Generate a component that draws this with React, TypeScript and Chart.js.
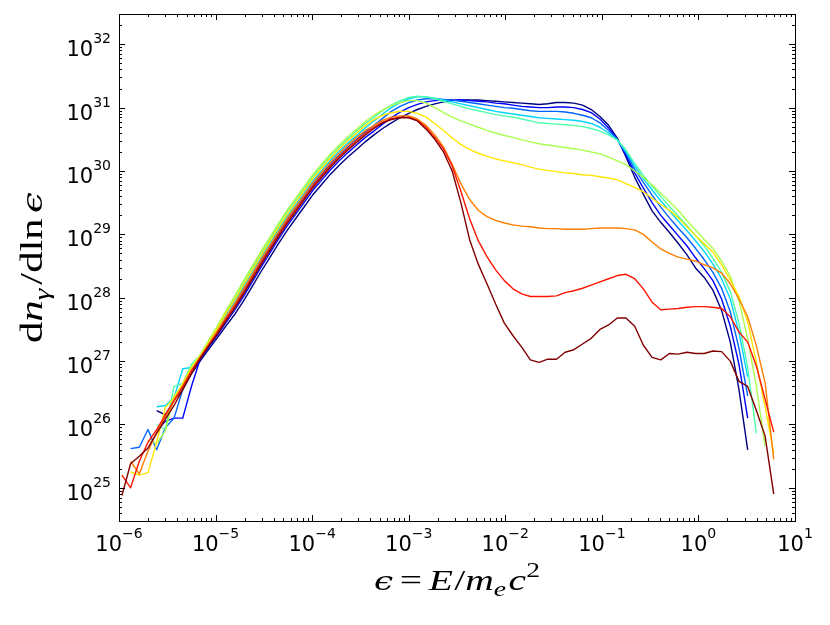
import { useEffect, useRef } from 'react';
import { Chart, registerables } from 'chart.js';
import type { Plugin } from 'chart.js';

Chart.register(...registerables);

// log10 of the photon energy for every bin
const logEnergy = [
  -5.97, -5.88, -5.79, -5.7, -5.61, -5.52, -5.43, -5.34, -5.25, -5.16,
  -5.07, -4.98, -4.89, -4.8, -4.71, -4.62, -4.53, -4.44, -4.35, -4.26,
  -4.17, -4.08, -3.99, -3.9, -3.81, -3.72, -3.63, -3.54, -3.45, -3.36,
  -3.27, -3.18, -3.09, -3.0, -2.91, -2.82, -2.73, -2.64, -2.55, -2.46,
  -2.37, -2.28, -2.19, -2.1, -2.01, -1.92, -1.83, -1.74, -1.65, -1.56,
  -1.47, -1.38, -1.29, -1.2, -1.11, -1.02, -0.93, -0.84, -0.75, -0.66,
  -0.57, -0.48, -0.39, -0.3, -0.21, -0.12, -0.03, 0.06, 0.15, 0.24,
  0.33, 0.42, 0.51, 0.6, 0.69, 0.78,
];

// log10(dn/dln eps) per curve, one entry per bin (null = no data)
const navy = [
  null, null, null, null, 26.22, 26.15, 26.38, 26.55, 26.8, 27.0,
  27.19, 27.37, 27.56, 27.74, 27.95, 28.18, 28.41, 28.63, 28.85, 29.06,
  29.25, 29.44, 29.63, 29.79, 29.95, 30.09, 30.22, 30.34, 30.46, 30.57,
  30.67, 30.76, 30.84, 30.91, 30.97, 31.02, 31.06, 31.09, 31.11, 31.12,
  31.12, 31.12, 31.11, 31.1, 31.09, 31.08, 31.07, 31.06, 31.05, 31.06,
  31.08, 31.08, 31.07, 31.04, 30.97, 30.86, 30.72, 30.52, 30.22, 29.9,
  29.63, 29.37, 29.19, 29.03, 28.86, 28.68, 28.47, 28.32, 28.12, 27.8,
  27.3, 26.55, 25.6, null, null, null,
];
const blue = [
  null, null, null, null, 25.9, 26.05, 26.1, 26.1, 26.6, 27.03,
  27.22, 27.41, 27.61, 27.81, 28.02, 28.25, 28.48, 28.7, 28.92, 29.13,
  29.32, 29.51, 29.7, 29.86, 30.02, 30.16, 30.29, 30.41, 30.53, 30.63,
  30.74, 30.84, 30.93, 31.0, 31.05, 31.09, 31.11, 31.12, 31.12, 31.12,
  31.11, 31.1, 31.09, 31.07, 31.06, 31.04, 31.02, 31.01, 31.0, 31.0,
  31.01, 31.01, 31.0, 30.97, 30.92, 30.82, 30.68, 30.5, 30.25, 29.97,
  29.73, 29.5, 29.3, 29.14, 28.98, 28.82, 28.63, 28.46, 28.27, 27.98,
  27.55, 26.95, 26.1, null, null, null,
];
const dodger = [
  null, 25.62, 25.64, 25.92, 25.6, 25.95, 26.1, 26.55, 26.85, 27.05,
  27.26, 27.46, 27.68, 27.89, 28.11, 28.34, 28.57, 28.79, 29.01, 29.22,
  29.41, 29.6, 29.79, 29.95, 30.11, 30.25, 30.38, 30.5, 30.62, 30.72,
  30.83, 30.94, 31.02, 31.08, 31.12, 31.14, 31.14, 31.13, 31.12, 31.1,
  31.08, 31.06, 31.04, 31.02, 31.0, 30.99, 30.97, 30.95, 30.94, 30.94,
  30.94, 30.93, 30.91, 30.88, 30.84, 30.76, 30.64, 30.5, 30.28, 30.03,
  29.82, 29.62, 29.43, 29.26, 29.1, 28.95, 28.78, 28.6, 28.4, 28.15,
  27.78, 27.2, 26.45, null, null, null,
];
const cyan = [
  null, null, null, null, 26.28, 26.3, 26.42, 26.88, 26.9, 27.07,
  27.29, 27.5, 27.73, 27.94, 28.17, 28.4, 28.63, 28.85, 29.07, 29.28,
  29.47, 29.66, 29.85, 30.01, 30.17, 30.31, 30.44, 30.56, 30.68, 30.79,
  30.9, 31.0, 31.08, 31.14, 31.17, 31.17, 31.15, 31.12, 31.09, 31.06,
  31.03, 31.0, 30.97, 30.94, 30.92, 30.9, 30.88, 30.86, 30.84, 30.83,
  30.82, 30.81, 30.8, 30.78, 30.75, 30.69, 30.6, 30.49, 30.3, 30.08,
  29.88, 29.7, 29.53, 29.37, 29.21, 29.06, 28.9, 28.73, 28.53, 28.3,
  27.98, 27.45, 26.75, null, null, null,
];
const aqua = [
  null, null, null, null, 26.0, 25.92, 26.6, 26.65, 26.95, 27.09,
  27.32, 27.54, 27.78, 28.0, 28.24, 28.47, 28.7, 28.92, 29.14, 29.35,
  29.54, 29.73, 29.92, 30.08, 30.24, 30.38, 30.51, 30.63, 30.75, 30.85,
  30.95, 31.04, 31.11, 31.16, 31.18, 31.17, 31.14, 31.1, 31.06, 31.02,
  30.98, 30.95, 30.92, 30.89, 30.87, 30.85, 30.82, 30.79, 30.76, 30.75,
  30.74, 30.73, 30.72, 30.7, 30.67, 30.63, 30.57, 30.49, 30.33, 30.12,
  29.93, 29.76, 29.6, 29.44, 29.29, 29.14, 28.98, 28.82, 28.62, 28.4,
  28.1, 27.6, 26.9, 25.86, null, null,
];
const green = [
  null, null, null, 25.75, 25.7, 25.9, 26.45, 26.62, 26.9, 27.1,
  27.33, 27.56, 27.8, 28.03, 28.27, 28.5, 28.73, 28.95, 29.17, 29.38,
  29.57, 29.76, 29.95, 30.11, 30.27, 30.41, 30.54, 30.66, 30.78, 30.88,
  30.96, 31.03, 31.08, 31.11, 31.11, 31.07, 31.0, 30.92, 30.85, 30.79,
  30.74, 30.69, 30.64, 30.6, 30.56, 30.53, 30.49, 30.46, 30.43, 30.41,
  30.39, 30.37, 30.35, 30.33, 30.3, 30.27, 30.22, 30.16, 30.1, 30.0,
  29.9, 29.78, 29.65, 29.52, 29.38, 29.22, 29.07, 28.92, 28.78, 28.58,
  28.34, 27.95, 27.35, 26.6, 25.66, null,
];
const yellow = [
  null, 25.25, 25.2, 25.24, 25.72, 26.27, 26.42, 26.65, 26.9, 27.08,
  27.3, 27.52, 27.76, 27.98, 28.21, 28.44, 28.67, 28.89, 29.11, 29.32,
  29.51, 29.7, 29.89, 30.05, 30.21, 30.35, 30.48, 30.6, 30.72, 30.81,
  30.88, 30.92, 30.94, 30.94, 30.91, 30.85, 30.75, 30.64, 30.52, 30.42,
  30.34, 30.28, 30.23, 30.19, 30.16, 30.13, 30.1, 30.06, 30.03, 30.01,
  29.99, 29.97, 29.96, 29.94, 29.93, 29.91, 29.89, 29.86, 29.8, 29.74,
  29.67, 29.57, 29.47, 29.38, 29.26, 29.12, 28.98, 28.85, 28.72, 28.52,
  28.28, 28.02, 27.62, 26.98, 26.28, 25.55,
];
const orange = [
  null, 25.42, 25.22, 25.58, 25.88, 26.12, 26.37, 26.6, 26.84, 27.06,
  27.27, 27.48, 27.7, 27.91, 28.14, 28.37, 28.6, 28.82, 29.04, 29.25,
  29.44, 29.63, 29.82, 29.98, 30.14, 30.28, 30.41, 30.53, 30.64, 30.72,
  30.8, 30.85, 30.87, 30.87, 30.82, 30.72, 30.57, 30.38, 30.1, 29.8,
  29.55, 29.38, 29.28, 29.22, 29.18, 29.15, 29.13, 29.12, 29.1, 29.09,
  29.09, 29.08, 29.08, 29.08, 29.09, 29.1, 29.1, 29.1, 29.09, 29.07,
  29.0, 28.88, 28.77, 28.7, 28.64, 28.61, 28.58, 28.52, 28.47, 28.39,
  28.22, 27.98, 27.7, 27.24, 26.66, 25.45,
];
const red = [
  25.2, 25.0, 25.42, 25.72, 25.92, 26.15, 26.38, 26.6, 26.85, 27.05,
  27.25, 27.45, 27.67, 27.87, 28.09, 28.32, 28.55, 28.77, 28.99, 29.2,
  29.39, 29.58, 29.77, 29.93, 30.09, 30.23, 30.36, 30.48, 30.6, 30.69,
  30.77, 30.82, 30.85, 30.85, 30.8, 30.69, 30.53, 30.35, 30.08, 29.68,
  29.25, 28.9, 28.65, 28.44, 28.27, 28.14, 28.06, 28.02, 28.02, 28.02,
  28.03, 28.08, 28.11, 28.15, 28.2, 28.25, 28.3, 28.35, 28.37, 28.3,
  28.14, 27.93, 27.81, 27.82, 27.83, 27.85, 27.86, 27.86, 27.85, 27.83,
  27.7, 27.46, 27.3, 26.92, 26.4, 25.88,
];
const darkRed = [
  24.88, 25.38, 25.5, 25.63, 25.86, 26.08, 26.3, 26.55, 26.8, 27.04,
  27.24, 27.43, 27.64, 27.84, 28.06, 28.29, 28.52, 28.74, 28.96, 29.17,
  29.36, 29.55, 29.74, 29.9, 30.06, 30.2, 30.33, 30.45, 30.57, 30.67,
  30.76, 30.81, 30.84, 30.84, 30.79, 30.66, 30.5, 30.3, 30.0, 29.5,
  28.92, 28.53, 28.22, 27.9, 27.6, 27.4, 27.22, 27.02, 26.98, 27.03,
  27.03, 27.14, 27.18, 27.27, 27.36, 27.5, 27.57, 27.68, 27.68, 27.55,
  27.25, 27.06, 27.02, 27.12, 27.11, 27.14, 27.12, 27.12, 27.16, 27.15,
  27.0, 26.68, 26.6, 26.22, 25.82, 24.9,
];

const curves = [navy, blue, dodger, cyan, aqua, green, yellow, orange, red, darkRed];
// jet colormap, evenly spaced
const jetColors = [
  '#000080', '#0000ff', '#0063ff', '#00d4ff', '#4effa9',
  '#a9ff4e', '#ffe600', '#ff7d00', '#ff1400', '#800000',
];

const xDecades = [-6, -5, -4, -3, -2, -1, 0, 1];
const yDecades = [25, 26, 27, 28, 29, 30, 31, 32];

const BASE_FONT = "21px 'DejaVu Sans'";
const EXP_FONT = "14px 'DejaVu Sans'";
const SERIF = "'Liberation Serif'";

type Piece = { text: string; font: string; dy?: number; before?: number; after?: number };

const xTitle: Piece[] = [
  { text: 'ϵ', font: "italic 26px 'DejaVu Serif'" },
  { text: '=', font: `30px ${SERIF}`, before: 5, after: 5 },
  { text: 'E', font: `italic 30px ${SERIF}` },
  { text: '/', font: `30px ${SERIF}`, before: 1 },
  { text: 'm', font: `italic 30px ${SERIF}` },
  { text: 'e', font: `italic 21px ${SERIF}`, dy: 6 },
  { text: 'c', font: `italic 30px ${SERIF}`, before: 2 },
  { text: '2', font: `21px ${SERIF}`, dy: -13 },
];

const yTitle: Piece[] = [
  { text: 'd', font: `32px ${SERIF}` },
  { text: 'n', font: `italic 32px ${SERIF}` },
  { text: 'γ', font: `italic 22px ${SERIF}`, dy: 7 },
  { text: '/', font: `32px ${SERIF}`, before: 3 },
  { text: 'dln', font: `32px ${SERIF}` },
  { text: 'ϵ', font: "italic 28px 'DejaVu Serif'", before: 4 },
];

function drawPieces(ctx: CanvasRenderingContext2D, pieces: Piece[], cx: number, y: number, width: number) {
  const widths = pieces.map((p) => {
    ctx.font = p.font;
    return (p.before ?? 0) + ctx.measureText(p.text).width + (p.after ?? 0);
  });
  const total = widths.reduce((a, b) => a + b, 0);
  ctx.save();
  ctx.translate(cx - width / 2, y);
  ctx.scale(width / total, 1);
  let x = 0;
  pieces.forEach((p, i) => {
    ctx.font = p.font;
    ctx.fillText(p.text, x + (p.before ?? 0), p.dy ?? 0);
    x += widths[i];
  });
  ctx.restore();
}

function drawPower(ctx: CanvasRenderingContext2D, p: number, x: number, y: number, align: 'center' | 'right') {
  const exp = p < 0 ? '\u2212' + Math.abs(p) : String(p);
  ctx.font = BASE_FONT;
  const wb = ctx.measureText('10').width;
  ctx.font = EXP_FONT;
  const we = ctx.measureText(exp).width;
  const x0 = align === 'center' ? x - (wb + we) / 2 : x - wb - we;
  ctx.font = BASE_FONT;
  ctx.fillText('10', x0, y);
  ctx.font = EXP_FONT;
  ctx.fillText(exp, x0 + wb, y - 13);
}

// matplotlib-like frame, inward ticks on all sides, power-of-ten labels
const axisDecor: Plugin<'line'> = {
  id: 'axisDecor',
  afterDraw(chart) {
    const { ctx, chartArea: a } = chart;
    const xs = chart.scales.x;
    const ys = chart.scales.y;
    ctx.save();
    ctx.strokeStyle = '#000';
    ctx.fillStyle = '#000';
    ctx.lineWidth = 1;
    ctx.strokeRect(a.left + 0.5, a.top + 0.5, a.right - a.left, a.bottom - a.top);

    ctx.beginPath();
    for (let d = -6; d <= 0; d++) {
      for (let m = 1; m <= 9; m++) {
        const len = m === 1 ? 6 : 3;
        const px = Math.round(xs.getPixelForValue(m * 10 ** d)) + 0.5;
        ctx.moveTo(px, a.bottom);
        ctx.lineTo(px, a.bottom - len);
        ctx.moveTo(px, a.top);
        ctx.lineTo(px, a.top + len);
      }
    }
    for (let d = 24; d <= 32; d++) {
      for (let m = 1; m <= 9; m++) {
        const v = m * 10 ** d;
        if (v < ys.min || v > ys.max) continue;
        const len = m === 1 ? 6 : 3;
        const py = Math.round(ys.getPixelForValue(v)) + 0.5;
        ctx.moveTo(a.left, py);
        ctx.lineTo(a.left + len, py);
        ctx.moveTo(a.right, py);
        ctx.lineTo(a.right - len, py);
      }
    }
    ctx.stroke();

    ctx.textAlign = 'left';
    ctx.textBaseline = 'alphabetic';
    xDecades.forEach((p) => drawPower(ctx, p, xs.getPixelForValue(10 ** p), 551, 'center'));
    yDecades.forEach((p) => drawPower(ctx, p, 111, ys.getPixelForValue(10 ** p) + 12, 'right'));

    drawPieces(ctx, xTitle, (a.left + a.right) / 2, 590, 166);
    ctx.save();
    ctx.translate(42, (a.top + a.bottom) / 2);
    ctx.rotate(-Math.PI / 2);
    drawPieces(ctx, yTitle, 0, 0, 151);
    ctx.restore();
    ctx.restore();
  },
};

export default function App() {
  const canvasRef = useRef<HTMLCanvasElement>(null);

  useEffect(() => {
    if (!canvasRef.current) return;

    const datasets = curves.map((values, i) => ({
      data: logEnergy.flatMap((lx, k) => {
        const v = values[k];
        return v == null ? [] : [{ x: 10 ** lx, y: 10 ** v }];
      }),
      borderColor: jetColors[i],
      borderWidth: 1.4,
      borderJoinStyle: 'round' as const,
      pointRadius: 0,
      fill: false,
      tension: 0,
      order: curves.length - i,
    }));

    const chart = new Chart(canvasRef.current, {
      type: 'line',
      data: { datasets },
      options: {
        responsive: true,
        maintainAspectRatio: false,
        animation: false,
        layout: { padding: { top: 14, right: 35, left: 0, bottom: 0 } },
        plugins: {
          legend: { display: false },
          tooltip: { enabled: false },
        },
        scales: {
          x: {
            type: 'logarithmic',
            min: 1e-6,
            max: 10,
            ticks: { display: false },
            grid: { display: false },
            border: { display: false },
            afterFit: (scale) => {
              scale.height = 104;
            },
          },
          y: {
            type: 'logarithmic',
            min: 3e24,
            max: 3e32,
            ticks: { display: false },
            grid: { display: false },
            border: { display: false },
            afterFit: (scale) => {
              scale.width = 119;
            },
          },
        },
      },
      plugins: [axisDecor],
    });

    return () => {
      chart.destroy();
    };
  }, []);

  return (
    <div style={{ position: 'absolute', left: 0, top: 0, width: 830, height: 625, background: '#fff' }}>
      <canvas ref={canvasRef} />
    </div>
  );
}
